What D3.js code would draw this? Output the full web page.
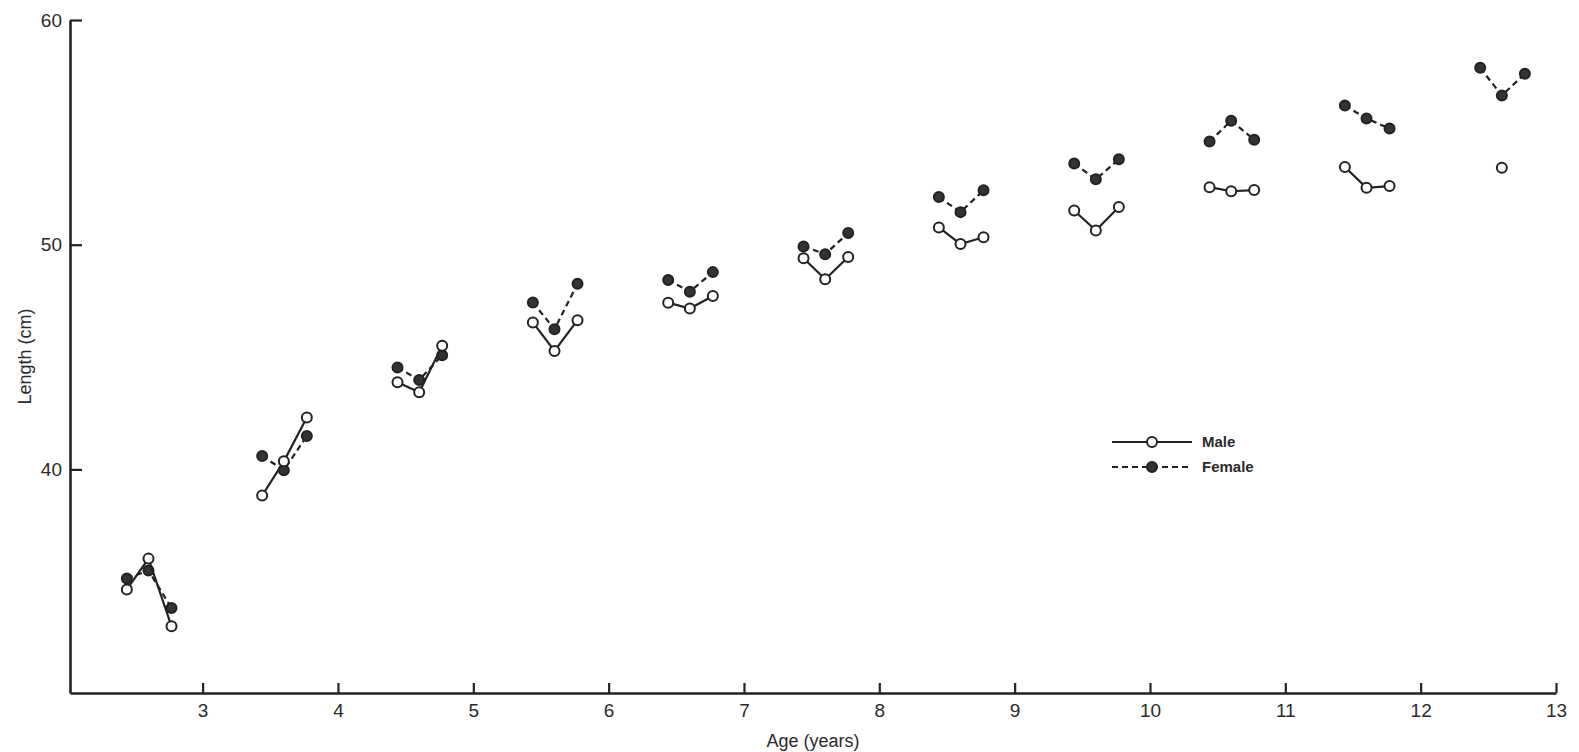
<!DOCTYPE html>
<html>
<head>
<meta charset="utf-8">
<script src="https://cdn.jsdelivr.net/npm/d3@7"></script>
<style>
  html, body { margin: 0; padding: 0; background: #fff; }
  svg { display: block; }
  text { font-family: "Liberation Sans", Arial, Helvetica, sans-serif; fill: #2a2a2a; }
</style>
</head>
<body>
<svg id="chart" width="1579" height="752"></svg>
<script>
// ---- data ----
const ageGroups = [2, 3, 4, 5, 6, 7, 8, 9, 10, 11, 12];
const subOffsets = [0.44, 0.60, 0.77];
const maleLength = [
  [34.66, 36.03, 33.02],
  [38.84, 40.36, 42.31],
  [43.88, 43.43, 45.50],
  [46.54, 45.27, 46.64],
  [47.42, 47.16, 47.72],
  [49.40, 48.46, 49.45],
  [50.77, 50.03, 50.33],
  [51.52, 50.63, 51.68],
  [52.56, 52.38, 52.43],
  [53.46, 52.53, 52.61],
  [null, 53.43, null]
];
const femaleLength = [
  [35.15, 35.50, 33.83],
  [40.60, 39.96, 41.49],
  [44.54, 43.98, 45.08],
  [47.43, 46.24, 48.26],
  [48.43, 47.91, 48.78],
  [49.92, 49.58, 50.52],
  [52.12, 51.45, 52.42],
  [53.61, 52.91, 53.80],
  [54.59, 55.52, 54.67],
  [56.19, 55.62, 55.17],
  [57.87, 56.64, 57.61]
];
const xTicks = [3, 4, 5, 6, 7, 8, 9, 10, 11, 12, 13];
const yTicks = [40, 50, 60];
const legendLabels = ["Male", "Female"];
const xTitle = "Age (years)";
const yTitle = "Length (cm)";

// ---- drawing ----
const svg = d3.select("#chart");
const x = d3.scaleLinear().domain([2.02, 13]).range([70, 1556]);
const y = d3.scaleLinear().domain([30.05, 60]).range([693, 20]);
const ink = "#222";

function groupPoints(values, g) {
  return values.map((v, i) => ({ x: ageGroups[g] + subOffsets[i], v }));
}

// axes
const xAxis = svg.append("g").attr("transform", `translate(0,${y(30.05)})`)
  .call(d3.axisBottom(x).tickValues(xTicks).tickSize(-10).tickSizeOuter(0).tickPadding(11).tickFormat(d3.format("d")));
const yAxis = svg.append("g").attr("transform", `translate(${x(2.02)},0)`)
  .call(d3.axisLeft(y).tickValues(yTicks).tickSize(-12).tickSizeOuter(0).tickPadding(8).tickFormat(d3.format("d")));
[xAxis, yAxis].forEach(a => {
  a.select(".domain").attr("stroke", ink).attr("stroke-width", 2.6);
  a.selectAll(".tick line").attr("stroke", ink).attr("stroke-width", 2.2);
  a.selectAll(".tick text").attr("font-size", 19).attr("fill", "#2a2a2a")
    .attr("font-family", "Liberation Sans, Arial, sans-serif");
});

svg.append("text").attr("x", (x(2.02) + x(13)) / 2).attr("y", 747)
  .attr("text-anchor", "middle").attr("font-size", 18).text(xTitle);
svg.append("text").attr("transform", `translate(31,${(y(30.05) + y(60)) / 2}) rotate(-90)`)
  .attr("text-anchor", "middle").attr("font-size", 18).text(yTitle);

const line = d3.line().defined(d => d.v != null).x(d => x(d.x)).y(d => y(d.v));

const series = [
  { data: femaleLength, dash: "6,4", fill: "#333" },
  { data: maleLength, dash: null, fill: "#fff" }
];

series.forEach(s => {
  const g = svg.append("g");
  s.data.forEach((vals, gi) => {
    const pts = groupPoints(vals, gi);
    g.append("path").datum(pts).attr("d", line)
      .attr("fill", "none").attr("stroke", ink).attr("stroke-width", 2.2)
      .attr("stroke-dasharray", s.dash);
    g.selectAll(null).data(pts.filter(p => p.v != null)).join("circle")
      .attr("cx", d => x(d.x)).attr("cy", d => y(d.v)).attr("r", 5)
      .attr("fill", s.fill).attr("stroke", ink).attr("stroke-width", 2);
  });
});

// legend
const legend = svg.append("g");
legendLabels.forEach((lab, i) => {
  const ly = 442 + i * 25;
  legend.append("line").attr("x1", 1112).attr("x2", 1192).attr("y1", ly).attr("y2", ly)
    .attr("stroke", ink).attr("stroke-width", 2.2).attr("stroke-dasharray", i ? "6,4" : null);
  legend.append("circle").attr("cx", 1152).attr("cy", ly).attr("r", 5)
    .attr("fill", i ? "#333" : "#fff").attr("stroke", ink).attr("stroke-width", 2);
  legend.append("text").attr("x", 1202).attr("y", ly + 5).attr("font-size", 15)
    .attr("font-weight", "bold").text(lab);
});
</script>
</body>
</html>
